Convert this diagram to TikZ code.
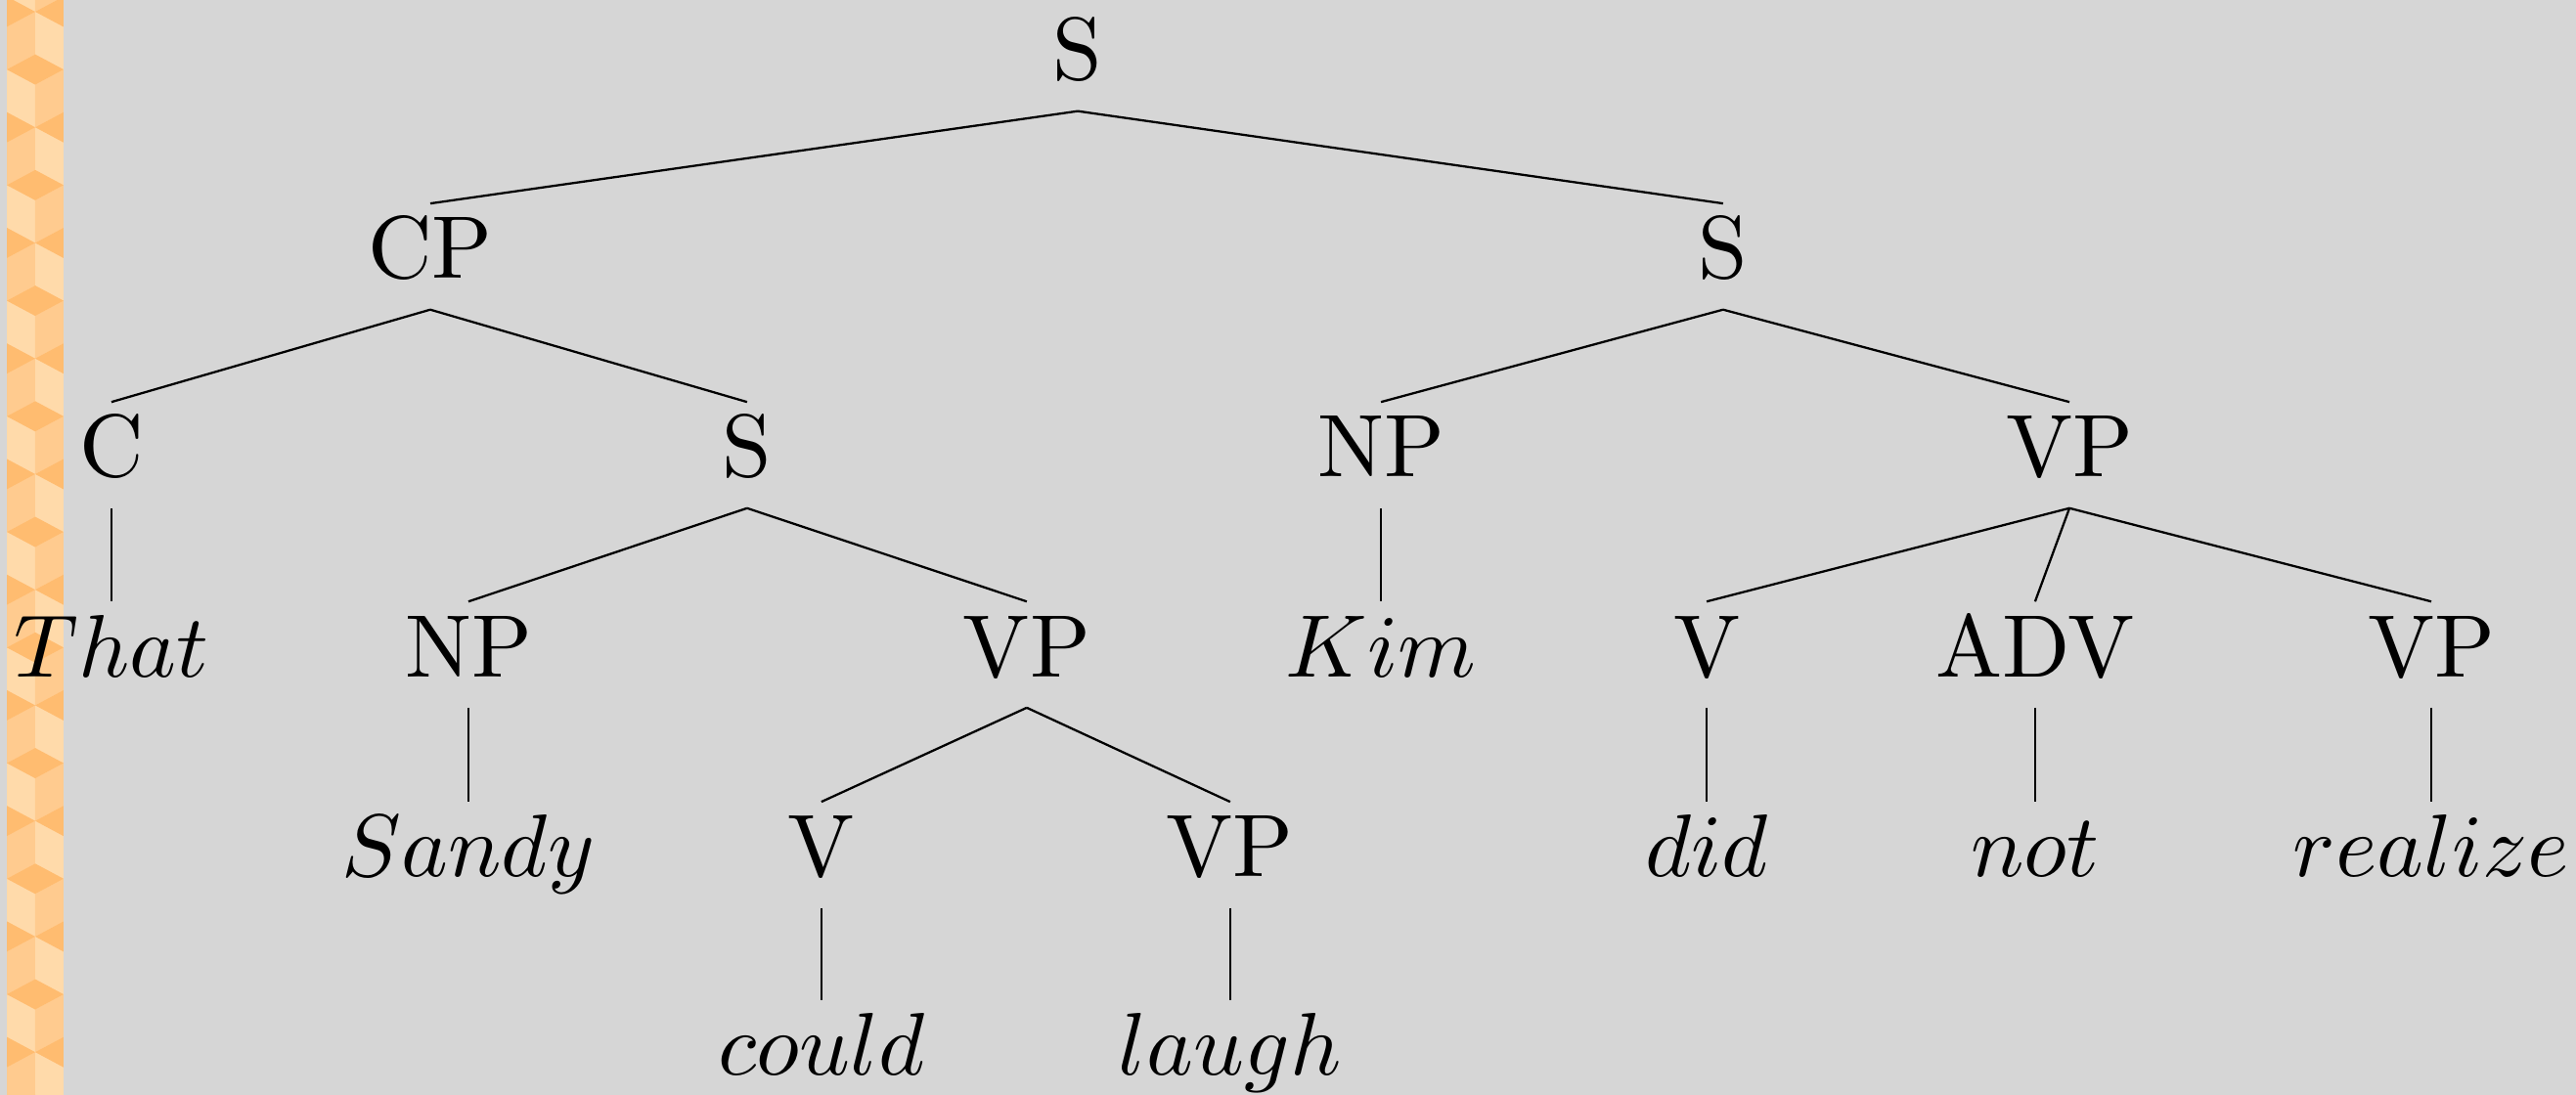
\documentclass[tikz,border=0pt]{standalone}

\definecolor{slidebg}{RGB}{214,214,214}
\definecolor{cubetop}{RGB}{255,188,112}
\definecolor{cubelight}{RGB}{255,218,170}
\definecolor{cubemid}{RGB}{255,203,143}

\tikzset{
  cat/.style={anchor=base, inner sep=0pt, text height=8.26pt, text depth=3.3pt},
  branch/.style={line width=0.25pt}
}

\begin{document}
\begin{tikzpicture}
  \fill[slidebg] (0,0) rectangle (10.196,-4.335);
  \useasboundingbox (0,0) rectangle (10.196,-4.335);
  % strip of cubes on the left
  \begin{scope}
    \clip (0.0271,0) rectangle (0.2516,-4.335);
    \fill[cubelight] (0.0271,0) rectangle (0.2516,-4.335);
    \foreach \k in {-1,...,9} {
      \pgfmathsetmacro{\ya}{-0.0464-0.4577*\k}
      \pgfmathsetmacro{\yb}{\ya-0.22885}
      \pgfmathsetmacro{\yc}{\ya-0.4577}
      \fill[cubemid] (0.0271,\ya-0.06) -- (0.1393,\ya) -- (0.1393,\yb+0.06) -- (0.0271,\yb) -- cycle;
      \fill[cubemid] (0.2516,\yb) -- (0.1393,\yb-0.06) -- (0.1393,\yc) -- (0.2516,\yc+0.06) -- cycle;
      \fill[cubetop] (0.0271,\ya+0.06) -- (0.1393,\ya) -- (0.0271,\ya-0.06) -- cycle;
      \fill[cubetop] (0.2516,\ya+0.06) -- (0.1393,\ya) -- (0.2516,\ya-0.06) -- cycle;
      \fill[cubetop] (0.0271,\yb) -- (0.1393,\yb+0.06) -- (0.2516,\yb) -- (0.1393,\yb-0.06) -- cycle;
    }
  \end{scope}

  \node[cat] (s) at (4.266,-0.317) {S};
  \node[cat] (cp) at (1.703,-1.103) {CP};
  \node[cat] (s2) at (6.820,-1.103) {S};
  \node[cat] (c) at (0.441,-1.889) {C};
  \node[cat] (s3) at (2.957,-1.889) {S};
  \node[cat] (np1) at (5.466,-1.889) {NP};
  \node[cat] (vp1) at (8.191,-1.889) {VP};
  \node[cat] (that) at (0.441,-2.679) {$That$};
  \node[cat] (np2) at (1.854,-2.679) {NP};
  \node[cat] (vp2) at (4.064,-2.679) {VP};
  \node[cat] (kim) at (5.466,-2.679) {$Kim$};
  \node[cat] (v1) at (6.755,-2.679) {V};
  \node[cat] (adv) at (8.055,-2.679) {ADV};
  \node[cat] (vp3) at (9.623,-2.679) {VP};
  \node[cat] (sandy) at (1.854,-3.472) {$Sandy$};
  \node[cat] (v2) at (3.251,-3.472) {V};
  \node[cat] (vp4) at (4.869,-3.472) {VP};
  \node[cat] (did) at (6.755,-3.472) {$did$};
  \node[cat] (not) at (8.055,-3.472) {$not$};
  \node[cat] (realize) at (9.623,-3.472) {$realize$};
  \node[cat] (could) at (3.251,-4.258) {$could$};
  \node[cat] (laugh) at (4.869,-4.258) {$laugh$};

  \begin{scope}[branch]
    \draw (s.south) to (cp.north);
    \draw (s.south) to (s2.north);
    \draw (cp.south) to (c.north);
    \draw (cp.south) to (s3.north);
    \draw (c.south) to (that.north);
    \draw (s3.south) to (np2.north);
    \draw (s3.south) to (vp2.north);
    \draw (np2.south) to (sandy.north);
    \draw (vp2.south) to (v2.north);
    \draw (vp2.south) to (vp4.north);
    \draw (v2.south) to (could.north);
    \draw (vp4.south) to (laugh.north);
    \draw (s2.south) to (np1.north);
    \draw (s2.south) to (vp1.north);
    \draw (np1.south) to (kim.north);
    \draw (vp1.south) to (v1.north);
    \draw (vp1.south) to (adv.north);
    \draw (vp1.south) to (vp3.north);
    \draw (v1.south) to (did.north);
    \draw (adv.south) to (not.north);
    \draw (vp3.south) to (realize.north);
  \end{scope}
\end{tikzpicture}
\end{document}
